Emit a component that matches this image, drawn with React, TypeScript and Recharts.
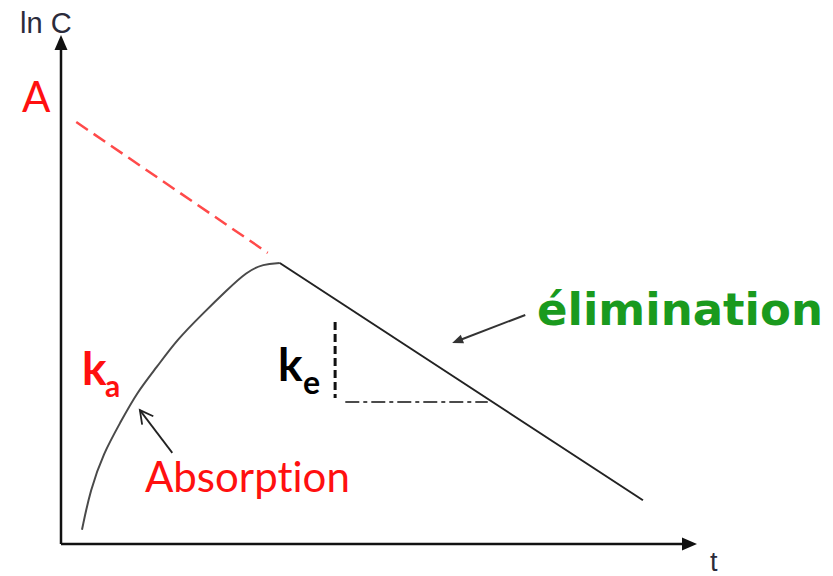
import { ComposedChart, Line, XAxis, YAxis, ReferenceLine } from "recharts";

// absorption phase (rising curve up to the peak)
const absorptionT = [0.33, 0.46, 0.67, 0.93, 1.19, 1.51, 1.82, 2.24, 2.61, 2.92, 3.18, 3.44];
const absorptionC = [0.28, 1.06, 1.79, 2.38, 2.97, 3.48, 4.01, 4.54, 4.99, 5.35, 5.5, 5.52];

// elimination phase (straight line in ln scale)
const eliminationT = [3.44, 9.15];
const eliminationC = [5.52, 0.86];

// back-extrapolated elimination line towards A
const extrapT = [0.24, 3.25];
const extrapC = [8.29, 5.72];

// ke slope triangle
const keVertical = { t: 4.31, from: 4.36, to: 2.87 };
const keHorizontal = { c: 2.79, from: 4.47, to: 6.71 };

// pointer arrows [tailT, tailC, headT, headC]
const elimArrow = [7.3, 4.5, 6.15, 3.95];
const absArrow = [1.75, 1.79, 1.24, 2.63];

const X_MAX = 10;
const Y_MAX = 10;

const toRows = (t: number[], c: number[]) => t.map((v, i) => ({ t: v, c: c[i] }));

const absorptionData = toRows(absorptionT, absorptionC);
const eliminationData = toRows(eliminationT, eliminationC);
const extrapData = toRows(extrapT, extrapC);

const makeArrow =
  (head: "filled" | "open", len: number, half: number, color: string, width: number) =>
  (p: any) => {
    const { x1, y1, x2, y2 } = p;
    const a = Math.atan2(y2 - y1, x2 - x1);
    const bx = x2 - len * Math.cos(a);
    const by = y2 - len * Math.sin(a);
    const px = -Math.sin(a) * half;
    const py = Math.cos(a) * half;
    const l = `${bx + px},${by + py}`;
    const r = `${bx - px},${by - py}`;
    return (
      <g>
        <line
          x1={x1}
          y1={y1}
          x2={head === "filled" ? bx + len * 0.3 * Math.cos(a) : x2}
          y2={head === "filled" ? by + len * 0.3 * Math.sin(a) : y2}
          stroke={color}
          strokeWidth={width}
        />
        {head === "filled" ? (
          <polygon points={`${l} ${x2},${y2} ${r}`} fill={color} />
        ) : (
          <polyline points={`${l} ${x2},${y2} ${r}`} fill="none" stroke={color} strokeWidth={width} />
        )}
      </g>
    );
  };

const axisArrow = makeArrow("filled", 15, 6.5, "#111", 2.5);

const calibriLike = { fontVariantLigatures: "none" as const };

export default function App() {
  return (
    <div style={{ position: "fixed", left: 0, top: 0, width: 833, height: 576, background: "#fff" }}>
      <ComposedChart width={833} height={576} margin={{ top: 35, right: 136, bottom: 32, left: 61 }}>
        <XAxis type="number" dataKey="t" domain={[0, X_MAX]} hide />
        <YAxis type="number" dataKey="c" domain={[0, Y_MAX]} hide />

        <ReferenceLine segment={[{ x: 0, y: 0 }, { x: X_MAX, y: 0 }]} shape={axisArrow} />
        <ReferenceLine segment={[{ x: 0, y: 0 }, { x: 0, y: Y_MAX }]} shape={axisArrow} />

        <Line
          data={extrapData}
          dataKey="c"
          type="linear"
          stroke="#ff4a4a"
          strokeWidth={2.5}
          strokeDasharray="14 7"
          dot={false}
          activeDot={false}
          isAnimationActive={false}
        />
        <Line
          data={absorptionData}
          dataKey="c"
          type="basis"
          stroke="#4a4a4a"
          strokeWidth={2}
          dot={false}
          activeDot={false}
          isAnimationActive={false}
        />
        <Line
          data={eliminationData}
          dataKey="c"
          type="linear"
          stroke="#222"
          strokeWidth={2}
          dot={false}
          activeDot={false}
          isAnimationActive={false}
        />

        <ReferenceLine
          segment={[{ x: keVertical.t, y: keVertical.from }, { x: keVertical.t, y: keVertical.to }]}
          stroke="#111"
          strokeWidth={3}
          strokeDasharray="8 4"
        />
        <ReferenceLine
          segment={[{ x: keHorizontal.from, y: keHorizontal.c }, { x: keHorizontal.to, y: keHorizontal.c }]}
          stroke="#111"
          strokeWidth={1.5}
          strokeDasharray="14 4 4 4"
        />

        <ReferenceLine
          segment={[{ x: elimArrow[0], y: elimArrow[1] }, { x: elimArrow[2], y: elimArrow[3] }]}
          shape={makeArrow("filled", 11, 4.5, "#333", 2)}
        />
        <ReferenceLine
          segment={[{ x: absArrow[0], y: absArrow[1] }, { x: absArrow[2], y: absArrow[3] }]}
          shape={makeArrow("open", 13, 7, "#222", 1.8)}
        />
      </ComposedChart>

      <svg width={833} height={576} style={{ position: "absolute", left: 0, top: 0, pointerEvents: "none" }}>
        <text x={20} y={33} fontFamily="Liberation Sans" fontSize={29} fill="#2b2b3b">ln C</text>
        <text x={710} y={571} fontFamily="Liberation Sans" fontSize={27} fill="#2b2b3b">t</text>
        <text x={22} y={112} fontFamily="Lato" fontSize={42} fill="#ff1010">A</text>
        <text x={82} y={385} fontFamily="Lato" fontWeight="bold" fontSize={46} fill="#ff1010">k</text>
        <text x={105} y={397} fontFamily="Lato" fontWeight="bold" fontSize={30} fill="#ff1010">a</text>
        <text x={278} y={381} fontFamily="Lato" fontWeight="bold" fontSize={46} fill="#000">k</text>
        <text x={303} y={394} fontFamily="Lato" fontWeight="bold" fontSize={32} fill="#000">e</text>
        <text x={145} y={492} fontFamily="Lato" fontSize={42} fill="#ff1010" style={calibriLike}>Absorption</text>
        <text x={537} y={325} fontFamily="DejaVu Sans" fontWeight="bold" fontSize={45} fill="#1a9a1e">élimination</text>
      </svg>
    </div>
  );
}
